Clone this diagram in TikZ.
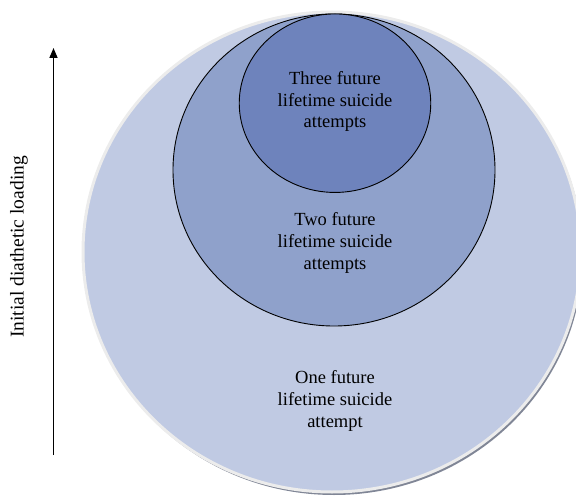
\documentclass[tikz,border=0pt]{standalone}
\usepackage{fontspec}
\setmainfont{Liberation Serif}
\usetikzlibrary{shapes.geometric,arrows.meta}
\definecolor{bigfill}{RGB}{192,202,227}
\definecolor{midfill}{RGB}{143,161,203}
\definecolor{smallfill}{RGB}{110,131,188}
\definecolor{rimgray}{RGB}{236,236,236}
\definecolor{shadowgray}{RGB}{128,134,150}
\tikzset{
  ring/.style={ellipse, inner sep=0pt, outer sep=0pt},
  label text/.style={align=center, font=\fontsize{18.5}{21.8}\selectfont, inner sep=0pt},
}
\begin{document}
\begin{tikzpicture}[x=1pt,y=-1pt]
\useasboundingbox (0,0) rectangle (576,497);
% shadow of the big ellipse
\node[ring, fill=shadowgray, minimum width=498pt, minimum height=480pt] (shadow) at (334,255) {};
% big ellipse
\node[ring, fill=bigfill, draw=rimgray, line width=3pt, minimum width=498pt, minimum height=480pt] (big) at (332,252) {};
% middle circle
\node[ring, fill=midfill, draw=black, line width=0.9pt, minimum width=322pt, minimum height=312pt] (mid) at (334,170) {};
% small circle
\node[ring, fill=smallfill, draw=black, line width=0.9pt, minimum width=191.5pt, minimum height=178.5pt] (small) at (335,103.2) {};
% texts
\node[label text] (t3) at (335,101.5) {Three future\\lifetime suicide\\attempts};
\node[label text] (t2) at (335,243) {Two future\\lifetime suicide\\attempts};
\node[label text] (t1) at (335,401) {One future\\lifetime suicide\\attempt};
% axis arrow
\coordinate (abot) at (53.5,455);
\coordinate (atop) at (53.5,48);
\draw[line width=1.5pt, -{Triangle[length=10pt,width=8pt]}] (abot) -- (atop);
\node[label text, font=\fontsize{19.5}{22}\selectfont, rotate=90] (axis) at (19,247) {Initial diathetic loading};
\end{tikzpicture}
\end{document}
